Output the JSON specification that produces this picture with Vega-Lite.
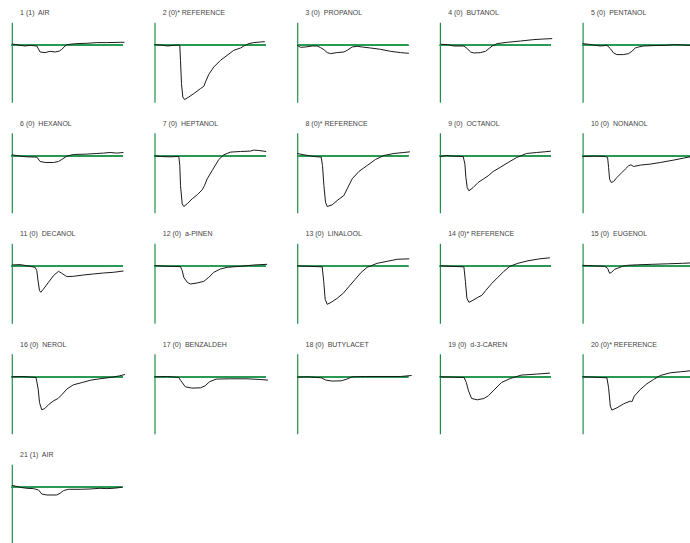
{
  "$schema": "https://vega.github.io/schema/vega-lite/v6.json",
  "background": "white",
  "padding": {"left": 9.8, "top": 8.3, "right": 0, "bottom": 0},
  "datasets": {
    "titles": [
      {"p": 1, "t": "1 (1)\u00a0 AIR"},
      {"p": 2, "t": "2 (0)* REFERENCE"},
      {"p": 3, "t": "3 (0)\u00a0 PROPANOL"},
      {"p": 4, "t": "4 (0)\u00a0 BUTANOL"},
      {"p": 5, "t": "5 (0)\u00a0 PENTANOL"},
      {"p": 6, "t": "6 (0)\u00a0 HEXANOL"},
      {"p": 7, "t": "7 (0)\u00a0 HEPTANOL"},
      {"p": 8, "t": "8 (0)* REFERENCE"},
      {"p": 9, "t": "9 (0)\u00a0 OCTANOL"},
      {"p": 10, "t": "10 (0)\u00a0 NONANOL"},
      {"p": 11, "t": "11 (0)\u00a0 DECANOL"},
      {"p": 12, "t": "12 (0)\u00a0 a-PINEN"},
      {"p": 13, "t": "13 (0)\u00a0 LINALOOL"},
      {"p": 14, "t": "14 (0)* REFERENCE"},
      {"p": 15, "t": "15 (0)\u00a0 EUGENOL"},
      {"p": 16, "t": "16 (0)\u00a0 NEROL"},
      {"p": 17, "t": "17 (0)\u00a0 BENZALDEH"},
      {"p": 18, "t": "18 (0)\u00a0 BUTYLACET"},
      {"p": 19, "t": "19 (0)\u00a0 d-3-CAREN"},
      {"p": 20, "t": "20 (0)* REFERENCE"},
      {"p": 21, "t": "21 (1)\u00a0 AIR"}
    ],
    "traces": [
      {"p":1,"x":0,"y":1.3},{"p":1,"x":13.3,"y":-0.7},{"p":1,"x":18.3,"y":0},{"p":1,"x":25,"y":-0.7},{"p":1,"x":28.3,"y":-6.7},{"p":1,"x":33.3,"y":-7.3},{"p":1,"x":38.3,"y":-6},{"p":1,"x":43.3,"y":-6.7},{"p":1,"x":47.7,"y":-5.7},{"p":1,"x":50,"y":-4},{"p":1,"x":53.3,"y":-0.7},{"p":1,"x":55,"y":0.7},{"p":1,"x":65,"y":1.7},{"p":1,"x":75,"y":2},{"p":1,"x":85,"y":2.7},{"p":1,"x":95,"y":2.7},{"p":1,"x":108.3,"y":3},{"p":1,"x":112.7,"y":3},
      {"p":2,"x":0,"y":0.7},{"p":2,"x":9.3,"y":0},{"p":2,"x":12.7,"y":-0.7},{"p":2,"x":19.3,"y":0},{"p":2,"x":24.3,"y":0.3},{"p":2,"x":25.3,"y":0},{"p":2,"x":26,"y":-15},{"p":2,"x":27,"y":-38.3},{"p":2,"x":28.3,"y":-51.7},{"p":2,"x":30,"y":-54.3},{"p":2,"x":34.3,"y":-51.7},{"p":2,"x":39.3,"y":-48.3},{"p":2,"x":46,"y":-43.3},{"p":2,"x":49.3,"y":-41},{"p":2,"x":51,"y":-36.7},{"p":2,"x":54.3,"y":-29},{"p":2,"x":59.3,"y":-21.7},{"p":2,"x":66,"y":-15},{"p":2,"x":72.7,"y":-10},{"p":2,"x":79.3,"y":-5},{"p":2,"x":86,"y":-2.7},{"p":2,"x":89.3,"y":-0.7},{"p":2,"x":94.3,"y":1.7},{"p":2,"x":99.3,"y":2.7},{"p":2,"x":106,"y":3.3},{"p":2,"x":110.3,"y":3.7},
      {"p":3,"x":0,"y":0},{"p":3,"x":3.3,"y":-2},{"p":3,"x":8.3,"y":-1.7},{"p":3,"x":15,"y":-0.7},{"p":3,"x":20,"y":-0.7},{"p":3,"x":23.3,"y":-2.3},{"p":3,"x":26.7,"y":-4.3},{"p":3,"x":30,"y":-7.3},{"p":3,"x":33.3,"y":-8.3},{"p":3,"x":40,"y":-7.3},{"p":3,"x":46.7,"y":-6.7},{"p":3,"x":50,"y":-5},{"p":3,"x":55,"y":-1.7},{"p":3,"x":60,"y":-1},{"p":3,"x":65,"y":-1.7},{"p":3,"x":73.3,"y":-2.7},{"p":3,"x":83.3,"y":-4},{"p":3,"x":93.3,"y":-6},{"p":3,"x":103.3,"y":-7.3},{"p":3,"x":111.7,"y":-8},
      {"p":4,"x":0.7,"y":1},{"p":4,"x":7.3,"y":0.7},{"p":4,"x":14,"y":-0.7},{"p":4,"x":24,"y":-0.7},{"p":4,"x":27.3,"y":-3.3},{"p":4,"x":30.7,"y":-6.7},{"p":4,"x":34,"y":-7.7},{"p":4,"x":40.7,"y":-7.3},{"p":4,"x":45.7,"y":-6},{"p":4,"x":49,"y":-3.3},{"p":4,"x":52.3,"y":-0.7},{"p":4,"x":57.3,"y":1.7},{"p":4,"x":67.3,"y":3},{"p":4,"x":80.7,"y":4.3},{"p":4,"x":94,"y":5.7},{"p":4,"x":104,"y":6.3},{"p":4,"x":112.3,"y":6.7},
      {"p":5,"x":0,"y":1.7},{"p":5,"x":6,"y":1},{"p":5,"x":12.7,"y":0},{"p":5,"x":17.7,"y":-0.7},{"p":5,"x":24.3,"y":0},{"p":5,"x":27.7,"y":-3.3},{"p":5,"x":31,"y":-7.7},{"p":5,"x":34.3,"y":-9.3},{"p":5,"x":41,"y":-9.3},{"p":5,"x":46,"y":-8.3},{"p":5,"x":49.3,"y":-6},{"p":5,"x":52.7,"y":-2.7},{"p":5,"x":56,"y":-1.7},{"p":5,"x":61,"y":-0.7},{"p":5,"x":71,"y":-0.3},{"p":5,"x":84.3,"y":0},{"p":5,"x":91,"y":0.7},{"p":5,"x":107.7,"y":0},
      {"p":6,"x":0,"y":1},{"p":6,"x":8.3,"y":-0.3},{"p":6,"x":15,"y":-1},{"p":6,"x":25,"y":-1.3},{"p":6,"x":28.3,"y":-5.7},{"p":6,"x":33.3,"y":-6.7},{"p":6,"x":41.7,"y":-6.7},{"p":6,"x":46.7,"y":-5.7},{"p":6,"x":50,"y":-3.7},{"p":6,"x":55,"y":-0.3},{"p":6,"x":61.7,"y":1.3},{"p":6,"x":75,"y":1.7},{"p":6,"x":85,"y":2.3},{"p":6,"x":91.7,"y":2.7},{"p":6,"x":98.3,"y":3.3},{"p":6,"x":105,"y":2.7},{"p":6,"x":111.7,"y":3.3},
      {"p":7,"x":0,"y":0},{"p":7,"x":6,"y":-0.7},{"p":7,"x":16,"y":-1},{"p":7,"x":24.3,"y":-0.7},{"p":7,"x":25.3,"y":-9.7},{"p":7,"x":26,"y":-29.7},{"p":7,"x":27.7,"y":-48},{"p":7,"x":29.3,"y":-50.7},{"p":7,"x":32.7,"y":-48},{"p":7,"x":37.7,"y":-43},{"p":7,"x":42.7,"y":-39},{"p":7,"x":47.7,"y":-34},{"p":7,"x":50,"y":-29.7},{"p":7,"x":52.7,"y":-23},{"p":7,"x":57.7,"y":-14.7},{"p":7,"x":64.3,"y":-3.7},{"p":7,"x":69.3,"y":1},{"p":7,"x":76,"y":3.7},{"p":7,"x":86,"y":4.3},{"p":7,"x":96,"y":4.7},{"p":7,"x":99.3,"y":5.7},{"p":7,"x":104.3,"y":5.3},{"p":7,"x":111.7,"y":4.3},
      {"p":8,"x":0,"y":2.3},{"p":8,"x":6.7,"y":1},{"p":8,"x":16.7,"y":-0.7},{"p":8,"x":24,"y":-1.3},{"p":8,"x":25.3,"y":-9.7},{"p":8,"x":26.7,"y":-29.7},{"p":8,"x":28.3,"y":-46.3},{"p":8,"x":30,"y":-50.7},{"p":8,"x":35,"y":-49},{"p":8,"x":40,"y":-44.7},{"p":8,"x":46.7,"y":-39.7},{"p":8,"x":50,"y":-33},{"p":8,"x":55,"y":-23},{"p":8,"x":61.7,"y":-15.7},{"p":8,"x":70,"y":-9.7},{"p":8,"x":78.3,"y":-3.7},{"p":8,"x":86.7,"y":0.3},{"p":8,"x":96.7,"y":2.3},{"p":8,"x":106.7,"y":3.3},{"p":8,"x":112.7,"y":4},
      {"p":9,"x":0,"y":-0.7},{"p":9,"x":6.7,"y":0.3},{"p":9,"x":13.3,"y":-0.3},{"p":9,"x":23.3,"y":-0.7},{"p":9,"x":25,"y":-8.3},{"p":9,"x":26,"y":-21.7},{"p":9,"x":27.3,"y":-31.7},{"p":9,"x":29,"y":-35},{"p":9,"x":33.3,"y":-31.7},{"p":9,"x":38.3,"y":-26.7},{"p":9,"x":43.3,"y":-23.3},{"p":9,"x":48.3,"y":-20},{"p":9,"x":53.3,"y":-15.7},{"p":9,"x":60,"y":-11.7},{"p":9,"x":68.3,"y":-6.7},{"p":9,"x":76.7,"y":-1.7},{"p":9,"x":86.7,"y":2.3},{"p":9,"x":96.7,"y":3.3},{"p":9,"x":105,"y":4},{"p":9,"x":111,"y":4.7},
      {"p":10,"x":0,"y":-0.7},{"p":10,"x":11,"y":-0.3},{"p":10,"x":22.7,"y":-0.7},{"p":10,"x":25,"y":-1.7},{"p":10,"x":26,"y":-11.7},{"p":10,"x":27,"y":-23.3},{"p":10,"x":28.7,"y":-26.7},{"p":10,"x":31,"y":-25.7},{"p":10,"x":34.3,"y":-21.7},{"p":10,"x":39.3,"y":-16.7},{"p":10,"x":42.7,"y":-13.3},{"p":10,"x":46,"y":-10},{"p":10,"x":48.3,"y":-9},{"p":10,"x":51,"y":-10.7},{"p":10,"x":57.7,"y":-9.3},{"p":10,"x":67.7,"y":-8.3},{"p":10,"x":77.7,"y":-6.7},{"p":10,"x":91,"y":-4.3},{"p":10,"x":101,"y":-2.3},{"p":10,"x":107.7,"y":-1},
      {"p":11,"x":0,"y":1.3},{"p":11,"x":8.3,"y":1.7},{"p":11,"x":18.3,"y":0},{"p":11,"x":23.3,"y":-1},{"p":11,"x":25,"y":-4.3},{"p":11,"x":26,"y":-12.7},{"p":11,"x":27.7,"y":-24.3},{"p":11,"x":29,"y":-26},{"p":11,"x":31.7,"y":-22.7},{"p":11,"x":36.7,"y":-16},{"p":11,"x":41.7,"y":-9.3},{"p":11,"x":46.7,"y":-5},{"p":11,"x":50,"y":-7},{"p":11,"x":55,"y":-10.3},{"p":11,"x":61.7,"y":-10},{"p":11,"x":71.7,"y":-8.7},{"p":11,"x":81.7,"y":-7.7},{"p":11,"x":91.7,"y":-6.7},{"p":11,"x":101.7,"y":-6},{"p":11,"x":111.7,"y":-4.7},
      {"p":12,"x":0,"y":0.7},{"p":12,"x":12.7,"y":0},{"p":12,"x":26,"y":-0.3},{"p":12,"x":27.7,"y":-4.3},{"p":12,"x":29.3,"y":-11},{"p":12,"x":32.7,"y":-16},{"p":12,"x":36,"y":-17.7},{"p":12,"x":42.7,"y":-16.7},{"p":12,"x":49.3,"y":-15},{"p":12,"x":54.3,"y":-11},{"p":12,"x":59.3,"y":-6},{"p":12,"x":66,"y":-2.7},{"p":12,"x":72.7,"y":-1},{"p":12,"x":86,"y":0},{"p":12,"x":99.3,"y":1.3},{"p":12,"x":112.7,"y":2},
      {"p":13,"x":0,"y":0.5},{"p":13,"x":10,"y":0},{"p":13,"x":25,"y":-0.5},{"p":13,"x":26.5,"y":-15},{"p":13,"x":28,"y":-33},{"p":13,"x":30,"y":-38},{"p":13,"x":34,"y":-36},{"p":13,"x":40,"y":-32},{"p":13,"x":46,"y":-27},{"p":13,"x":52,"y":-20},{"p":13,"x":58,"y":-13},{"p":13,"x":64,"y":-6},{"p":13,"x":70,"y":-1},{"p":13,"x":80,"y":3},{"p":13,"x":90,"y":5},{"p":13,"x":100,"y":7},{"p":13,"x":112,"y":7.5},
      {"p":14,"x":0,"y":0.5},{"p":14,"x":10,"y":0},{"p":14,"x":24,"y":-0.5},{"p":14,"x":25.5,"y":-15},{"p":14,"x":27,"y":-32},{"p":14,"x":29,"y":-36},{"p":14,"x":33,"y":-34},{"p":14,"x":38,"y":-31},{"p":14,"x":42,"y":-29},{"p":14,"x":46,"y":-24},{"p":14,"x":52,"y":-17},{"p":14,"x":58,"y":-11},{"p":14,"x":64,"y":-5},{"p":14,"x":70,"y":0},{"p":14,"x":78,"y":3},{"p":14,"x":88,"y":5.5},{"p":14,"x":100,"y":7.5},{"p":14,"x":110,"y":8.5},
      {"p":15,"x":0,"y":1},{"p":15,"x":10,"y":0.5},{"p":15,"x":22,"y":0},{"p":15,"x":25,"y":-2},{"p":15,"x":27,"y":-7},{"p":15,"x":29,"y":-6},{"p":15,"x":32,"y":-3},{"p":15,"x":36,"y":-1.5},{"p":15,"x":40,"y":0},{"p":15,"x":45,"y":1},{"p":15,"x":55,"y":1.5},{"p":15,"x":70,"y":2},{"p":15,"x":85,"y":2.5},{"p":15,"x":100,"y":3},{"p":15,"x":112,"y":3.5},
      {"p":16,"x":0,"y":0},{"p":16,"x":11,"y":0.3},{"p":16,"x":24.2,"y":-0.7},{"p":16,"x":26.4,"y":-12.3},{"p":16,"x":27.7,"y":-25.7},{"p":16,"x":29.9,"y":-33},{"p":16,"x":33,"y":-31.7},{"p":16,"x":37.4,"y":-27.3},{"p":16,"x":41.8,"y":-24},{"p":16,"x":46.2,"y":-21.7},{"p":16,"x":50.6,"y":-17.3},{"p":16,"x":55,"y":-12.3},{"p":16,"x":61.6,"y":-8},{"p":16,"x":70.4,"y":-5.7},{"p":16,"x":79.2,"y":-3.3},{"p":16,"x":90.2,"y":-1.7},{"p":16,"x":101.2,"y":-0.3},{"p":16,"x":107.8,"y":1},{"p":16,"x":113.1,"y":2.3},
      {"p":17,"x":0,"y":0},{"p":17,"x":13.2,"y":0.3},{"p":17,"x":24.2,"y":-0.7},{"p":17,"x":26.4,"y":-4},{"p":17,"x":30.8,"y":-10},{"p":17,"x":37.4,"y":-11.3},{"p":17,"x":46.2,"y":-11},{"p":17,"x":50.6,"y":-9},{"p":17,"x":55,"y":-5},{"p":17,"x":61.6,"y":-2.3},{"p":17,"x":74.8,"y":-2},{"p":17,"x":92.4,"y":-2},{"p":17,"x":105.6,"y":-2.7},{"p":17,"x":113.5,"y":-3.3},
      {"p":18,"x":0,"y":-0.3},{"p":18,"x":11,"y":0},{"p":18,"x":24.2,"y":-1},{"p":18,"x":28.6,"y":-3.3},{"p":18,"x":35.2,"y":-4.3},{"p":18,"x":44,"y":-4},{"p":18,"x":49.7,"y":-2.3},{"p":18,"x":55,"y":0},{"p":18,"x":68.2,"y":0.3},{"p":18,"x":85.8,"y":0.3},{"p":18,"x":103.4,"y":0.3},{"p":18,"x":114.4,"y":1.3},
      {"p":19,"x":0,"y":0},{"p":19,"x":13.2,"y":-0.3},{"p":19,"x":24.2,"y":-0.7},{"p":19,"x":26.4,"y":-5.7},{"p":19,"x":28.6,"y":-14},{"p":19,"x":31.7,"y":-21.7},{"p":19,"x":37.4,"y":-23},{"p":19,"x":44,"y":-21.7},{"p":19,"x":48.4,"y":-19},{"p":19,"x":55,"y":-12.3},{"p":19,"x":61.6,"y":-5.7},{"p":19,"x":70.4,"y":-1.7},{"p":19,"x":81.4,"y":1.7},{"p":19,"x":96.8,"y":2.7},{"p":19,"x":110,"y":3.7},
      {"p":20,"x":0,"y":0},{"p":20,"x":11,"y":-0.3},{"p":20,"x":24.3,"y":-1},{"p":20,"x":26,"y":-11},{"p":20,"x":27.7,"y":-29.3},{"p":20,"x":29.3,"y":-33.3},{"p":20,"x":34.3,"y":-31},{"p":20,"x":41,"y":-27},{"p":20,"x":47.7,"y":-24.3},{"p":20,"x":49.3,"y":-25},{"p":20,"x":51.7,"y":-19.3},{"p":20,"x":57.7,"y":-12.7},{"p":20,"x":64.3,"y":-7},{"p":20,"x":71,"y":-2.7},{"p":20,"x":77.7,"y":1.3},{"p":20,"x":87.7,"y":4},{"p":20,"x":97.7,"y":5},{"p":20,"x":107.7,"y":6},
      {"p":21,"x":0,"y":2},{"p":21,"x":8.3,"y":0},{"p":21,"x":15,"y":-1},{"p":21,"x":21.7,"y":-1.3},{"p":21,"x":26.7,"y":-2.7},{"p":21,"x":30,"y":-6.7},{"p":21,"x":35,"y":-7.7},{"p":21,"x":45,"y":-7.7},{"p":21,"x":48.3,"y":-6},{"p":21,"x":51.7,"y":-3.3},{"p":21,"x":56.7,"y":-2},{"p":21,"x":68.3,"y":-2},{"p":21,"x":78.3,"y":-1.7},{"p":21,"x":88.3,"y":-1},{"p":21,"x":95,"y":-1.3},{"p":21,"x":101.7,"y":-1},{"p":21,"x":110,"y":0}
    ]
  },
  "data": {"name": "traces"},
  "transform": [
    {"lookup": "p", "from": {"data": {"name": "titles"}, "key": "p", "fields": ["t"]}}
  ],
  "facet": {
    "field": "p",
    "type": "ordinal",
    "title": null,
    "header": {"title": null, "labels": false, "labelExpr": "''", "labelFontSize": 0, "labelPadding": 0}
  },
  "columns": 5,
  "bounds": "flush",
  "spacing": {"column": 31.7, "row": 30.5},
  "resolve": {"axis": {"y": "independent"}},
  "spec": {
    "width": 111,
    "height": 80,
    "layer": [
      {
        "mark": {"type": "rule", "color": "#2a9a55", "strokeWidth": 1},
        "encoding": {"y": {"datum": 0, "type": "quantitative"}}
      },
      {
        "mark": {"type": "line", "color": "#1a1a1a", "strokeWidth": 1, "clip": false},
        "encoding": {
          "x": {"field": "x", "type": "quantitative", "scale": {"domain": [0, 111], "nice": false, "zero": false}, "axis": null},
          "y": {
            "field": "y",
            "type": "quantitative",
            "scale": {"domain": [-57, 23], "nice": false, "zero": false},
            "axis": {"title": null, "labels": false, "ticks": false, "grid": false, "domainColor": "#1f8f47", "domainWidth": 1.2, "minExtent": 0, "maxExtent": 0, "offset": 0}
          },
          "order": {"field": "x", "type": "quantitative"}
        }
      },
      {
        "transform": [{"aggregate": [{"op": "count", "as": "n"}], "groupby": ["p", "t"]}],
        "mark": {"type": "text", "align": "left", "baseline": "middle", "font": "Liberation Sans", "fontSize": 7, "color": "#444444"},
        "encoding": {
          "text": {"field": "t", "type": "nominal"},
          "x": {"datum": 8.3, "type": "quantitative"},
          "y": {"datum": 32, "type": "quantitative"}
        }
      }
    ]
  },
  "config": {
    "view": {"stroke": null},
    "axis": {"grid": false},
    "header": {"labels": false, "title": null, "labelPadding": 0, "labelFontSize": 0}
  }
}
